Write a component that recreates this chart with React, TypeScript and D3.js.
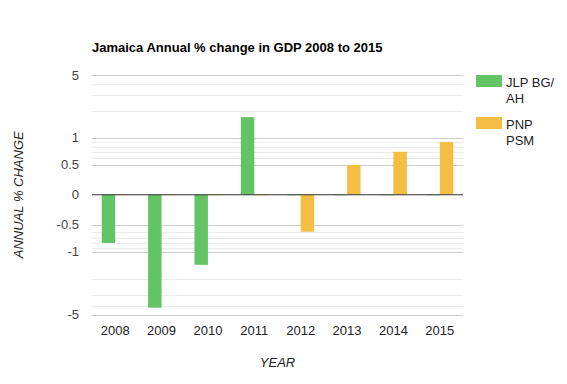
import React from "react";
import * as d3 from "d3";

const years = ["2008", "2009", "2010", "2011", "2012", "2013", "2014", "2015"];
const jlpValues = [-0.8, -4.2, -1.4, 1.7, 0, 0, 0, 0];
const pnpValues = [0, 0, 0, 0, -0.6, 0.5, 0.7, 0.9];
const seriesNames = ["JLP BG/|AH", "PNP|PSM"];
const seriesColors = ["#62c462", "#f5bd42"];
const majorTicks = [5, 1, 0.5, 0, -0.5, -1, -5];
const minorTicks = [4, 3, 2, 0.9, 0.8, 0.7, 0.6, -0.6, -0.7, -0.8, -0.9, -2, -3, -4];

// mirrored log transform (linear near zero)
const L = 0.633;
const T = (v: number) => {
  const a = Math.abs(v);
  const s = Math.sign(v);
  if (a >= 0.5) return s * (Math.log10(a) + L);
  return s * a * ((L - Math.log10(2)) / 0.5);
};

export default function App() {
  const W = 567, H = 384;
  const left = 92, right = 463, top = 75, bottom = 314.5;
  const y = d3.scaleLinear().domain([T(-5), T(5)]).range([bottom, top]);
  const x = d3.scaleBand<string>().domain(years).range([left, right]).padding(0);
  const groupW = x.bandwidth() * 0.58;
  const sub = d3.scaleBand<number>().domain([0, 1]).range([0, groupW]);
  const y0 = y(T(0));
  const series = [jlpValues, pnpValues];
  const font = "Arial, 'Liberation Sans', sans-serif";

  return (
    <svg width={W} height={H} style={{ position: "absolute", left: 0, top: 0, background: "#fff" }} fontFamily={font}>
      <text x={92} y={51.5} fontSize={13} fontWeight="bold" fill="#000">
        Jamaica Annual % change in GDP 2008 to 2015
      </text>
      {minorTicks.map((t) => (
        <line key={"m" + t} x1={left} x2={right} y1={Math.round(y(T(t))) + 0.5} y2={Math.round(y(T(t))) + 0.5} stroke="#ebebeb" />
      ))}
      {majorTicks.filter((t) => t !== 0).map((t) => (
        <line key={"g" + t} x1={left} x2={right} y1={Math.round(y(T(t))) + 0.5} y2={Math.round(y(T(t))) + 0.5} stroke="#cccccc" />
      ))}
      {majorTicks.map((t) => (
        <text key={"t" + t} x={79} y={y(T(t)) + 4.5} textAnchor="end" fontSize={13} fill="#444">
          {t}
        </text>
      ))}
      {series.map((vals, si) =>
        vals.map((v, i) => {
          const bx = (x(years[i]) as number) + (x.bandwidth() - groupW) / 2 + (sub(si) as number);
          const yv = y(T(v));
          const h = Math.abs(yv - y0);
          return (
            <rect
              key={si + "-" + i}
              x={bx}
              y={v === 0 ? y0 - 0.5 : Math.min(yv, y0)}
              width={sub.bandwidth()}
              height={v === 0 ? 1.5 : h}
              fill={seriesColors[si]}
              opacity={v === 0 ? 0.35 : 1}
            />
          );
        })
      )}
      <line x1={left} x2={right} y1={y0} y2={y0} stroke="#333" strokeWidth={1} />
      {years.map((yr) => (
        <text key={yr} x={(x(yr) as number) + x.bandwidth() / 2} y={335} textAnchor="middle" fontSize={13} fill="#222">
          {yr}
        </text>
      ))}
      <text x={(left + right) / 2} y={367} textAnchor="middle" fontSize={13} fontStyle="italic" fill="#222">
        YEAR
      </text>
      <text transform={`translate(23,${(top + bottom) / 2}) rotate(-90)`} textAnchor="middle" fontSize={13} fontStyle="italic" fill="#222">
        ANNUAL % CHANGE
      </text>
      {seriesNames.map((name, si) => {
        const ly = 75 + si * 42;
        const lines = name.split("|");
        return (
          <g key={name}>
            <rect x={476} y={ly} width={26} height={12} fill={seriesColors[si]} />
            {lines.map((ln, li) => (
              <text key={li} x={506} y={ly + 11.5 + li * 16} fontSize={13} fill="#222">
                {ln}
              </text>
            ))}
          </g>
        );
      })}
    </svg>
  );
}
